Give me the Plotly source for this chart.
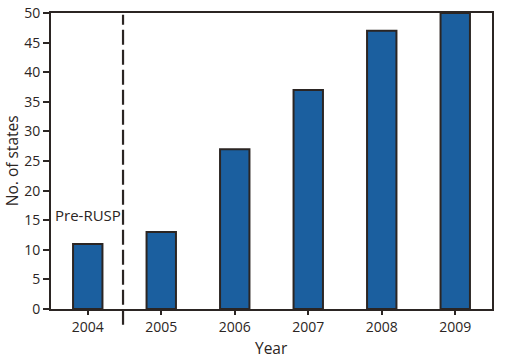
import plotly.graph_objects as go

years = ["2004", "2005", "2006", "2007", "2008", "2009"]
states = [11, 13, 27, 37, 47, 50]
y_ticks = [0, 5, 10, 15, 20, 25, 30, 35, 40, 45, 50]

dark = "#2b2523"
blue = "#1b5f9f"
font = "Open Sans"

fig = go.Figure()
fig.add_trace(go.Bar(
    x=years, y=states, width=0.4,
    marker=dict(color=blue, line=dict(color=dark, width=2)),
    hoverinfo="x+y",
))

fig.add_shape(type="line", xref="x", yref="paper",
              x0=0.48, x1=0.48, y0=-0.053, y1=0.994,
              line=dict(color=dark, width=2.2, dash="15px,5px"))

fig.add_annotation(x=0.0, y=15.9, xref="x", yref="y", text="Pre-RUSP",
                   showarrow=False, xanchor="center",
                   font=dict(family=font, size=15, color=dark))

fig.add_annotation(x=0.5, y=-0.132, xref="paper", yref="paper", text="Year",
                   showarrow=False, xanchor="center", yanchor="middle",
                   font=dict(family=font, size=15.5, color=dark))
fig.add_annotation(x=-0.088, y=0.5, xref="paper", yref="paper", text="No. of states",
                   showarrow=False, xanchor="center", yanchor="middle", textangle=-90,
                   font=dict(family=font, size=15.5, color=dark))

fig.update_layout(
    width=509, height=360,
    margin=dict(l=51, r=17, t=13, b=51, autoexpand=False),
    plot_bgcolor="white", paper_bgcolor="white",
    showlegend=False,
    font=dict(family=font, size=14, color=dark),
    xaxis=dict(
        type="category", range=[-0.5, 5.5], automargin=False,
        showline=True, mirror=True, linecolor=dark, linewidth=2,
        ticks="outside", ticklen=4, tickwidth=2, tickcolor=dark,
        showgrid=False,
        tickfont=dict(family=font, size=14, color=dark),
    ),
    yaxis=dict(
        range=[0, 50], tickvals=y_ticks, automargin=False,
        showline=True, mirror=True, linecolor=dark, linewidth=2,
        ticks="outside", ticklen=6, tickwidth=2, tickcolor=dark,
        showgrid=False, zeroline=False,
        tickfont=dict(family=font, size=14, color=dark),
    ),
)

fig.write_html("out.html", config={"displayModeBar": False},
               post_script="document.body.style.margin='0';document.body.style.overflow='hidden';")
